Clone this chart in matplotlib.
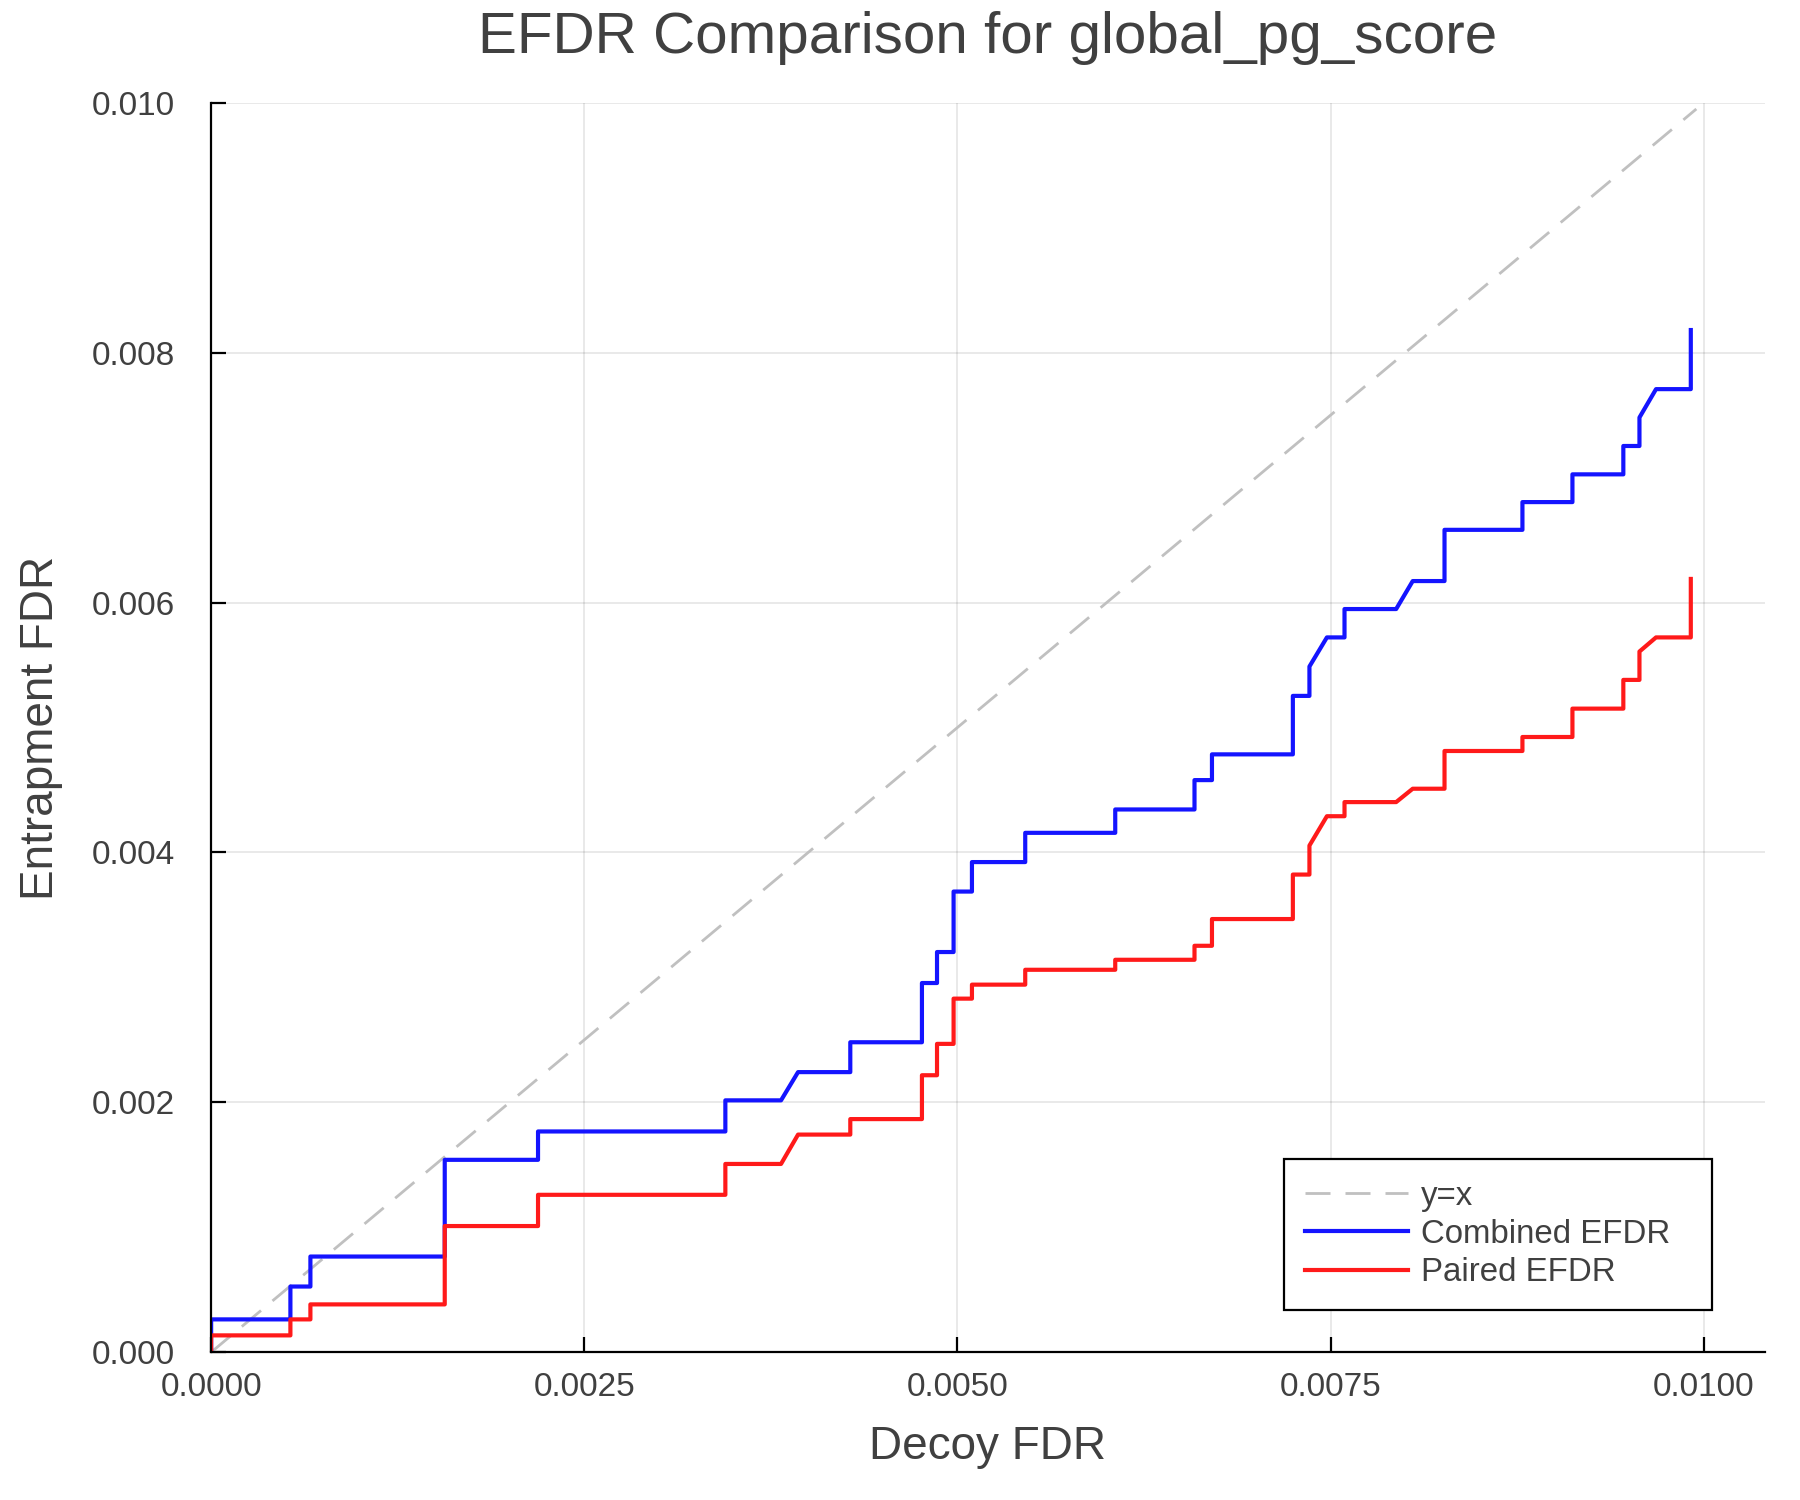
import matplotlib
matplotlib.use('Agg')
import numpy as np
import matplotlib.pyplot as plt

# decoy FDR at each vertex of the two curves (x 1e-3)
decoy_fdr = [0, 0, 0.531, 0.531, 0.665, 0.665, 1.565, 1.565, 2.19, 2.19,
             3.445, 3.445, 3.818, 3.932, 4.282, 4.282, 4.762, 4.762, 4.863, 4.863,
             4.974, 4.974, 5.097, 5.097, 5.454, 5.454, 6.057, 6.057, 6.588, 6.588,
             6.705, 6.705, 7.247, 7.247, 7.358, 7.358, 7.475, 7.593, 7.593, 7.939,
             8.050, 8.263, 8.263, 8.785, 8.785, 9.120, 9.120, 9.461, 9.461, 9.569,
             9.569, 9.680, 9.913, 9.913]

combined_efdr = [0, 0.263, 0.263, 0.526, 0.526, 0.766, 0.766, 1.540, 1.540, 1.767,
                 1.767, 2.016, 2.016, 2.242, 2.242, 2.481, 2.481, 2.955, 2.955, 3.203,
                 3.203, 3.687, 3.687, 3.923, 3.923, 4.157, 4.157, 4.344, 4.344, 4.579,
                 4.579, 4.785, 4.785, 5.253, 5.253, 5.488, 5.721, 5.721, 5.948, 5.948,
                 6.172, 6.172, 6.582, 6.582, 6.804, 6.804, 7.026, 7.026, 7.253, 7.253,
                 7.481, 7.708, 7.708, 8.181]

paired_efdr = [0, 0.135, 0.135, 0.263, 0.263, 0.383, 0.383, 1.010, 1.010, 1.260,
               1.260, 1.507, 1.507, 1.742, 1.742, 1.866, 1.866, 2.217, 2.217, 2.468,
               2.468, 2.830, 2.830, 2.942, 2.942, 3.061, 3.061, 3.141, 3.141, 3.253,
               3.253, 3.467, 3.467, 3.823, 3.823, 4.055, 4.290, 4.290, 4.403, 4.403,
               4.510, 4.510, 4.812, 4.812, 4.924, 4.924, 5.151, 5.151, 5.381, 5.381,
               5.608, 5.721, 5.721, 6.189]

diag = [0, 9.95]

x = np.array(decoy_fdr) / 1000
yc = np.array(combined_efdr) / 1000
yp = np.array(paired_efdr) / 1000
d = np.array(diag) / 1000

plt.rcParams['font.family'] = ['Liberation Sans', 'DejaVu Sans']
txt = '#404040'

fig = plt.figure(figsize=(18, 15), dpi=100)
ax = fig.add_axes([0.1173, 0.0985, 0.863, 0.833])

ax.plot(d, d, color='#c0c0c0', lw=2, dashes=(9, 5.4), label='y=x')
ax.plot(x, yc, color='#1414ff', lw=3, label='Combined EFDR')
ax.plot(x, yp, color='#ff1a1a', lw=3, label='Paired EFDR')

ax.set_xlim(0, 0.010407)
ax.set_ylim(0, 0.010)
ax.set_xticks([0, 0.0025, 0.005, 0.0075, 0.01])
ax.set_xticklabels(['0.0000', '0.0025', '0.0050', '0.0075', '0.0100'])
ax.set_yticks([0, 0.002, 0.004, 0.006, 0.008, 0.010])
ax.set_yticklabels(['0.000', '0.002', '0.004', '0.006', '0.008', '0.010'])

ax.grid(True, color='black', alpha=0.1, lw=1.2)
ax.set_axisbelow(True)
for s in ['top', 'right']:
    ax.spines[s].set_visible(False)
for s in ['left', 'bottom']:
    ax.spines[s].set_linewidth(1.6)
    ax.spines[s].set_color('black')
ax.tick_params(direction='in', length=11, width=1.6, color='black',
               labelsize=24, labelcolor=txt)
ax.tick_params(axis='y', pad=26)
ax.tick_params(axis='x', pad=14)

ax.set_xlabel('Decoy FDR', fontsize=33, color=txt, labelpad=16)
ax.set_ylabel('Entrapment FDR', fontsize=33, color=txt, labelpad=21)
ax.set_title('EFDR Comparison for global_pg_score', fontsize=42, color=txt, pad=36)

leg = ax.legend(loc='lower left', bbox_to_anchor=(0.6905, 0.034, 0.2755, 0.1),
                mode='expand', borderaxespad=0,
                fontsize=23.8, handlelength=3.1, labelspacing=0.22, borderpad=0.65,
                handletextpad=0.4, fancybox=False, edgecolor='black', framealpha=1)
leg.get_frame().set_linewidth(1.6)
for t in leg.get_texts():
    t.set_color(txt)

fig.savefig('out.png')
plt.close('all')
